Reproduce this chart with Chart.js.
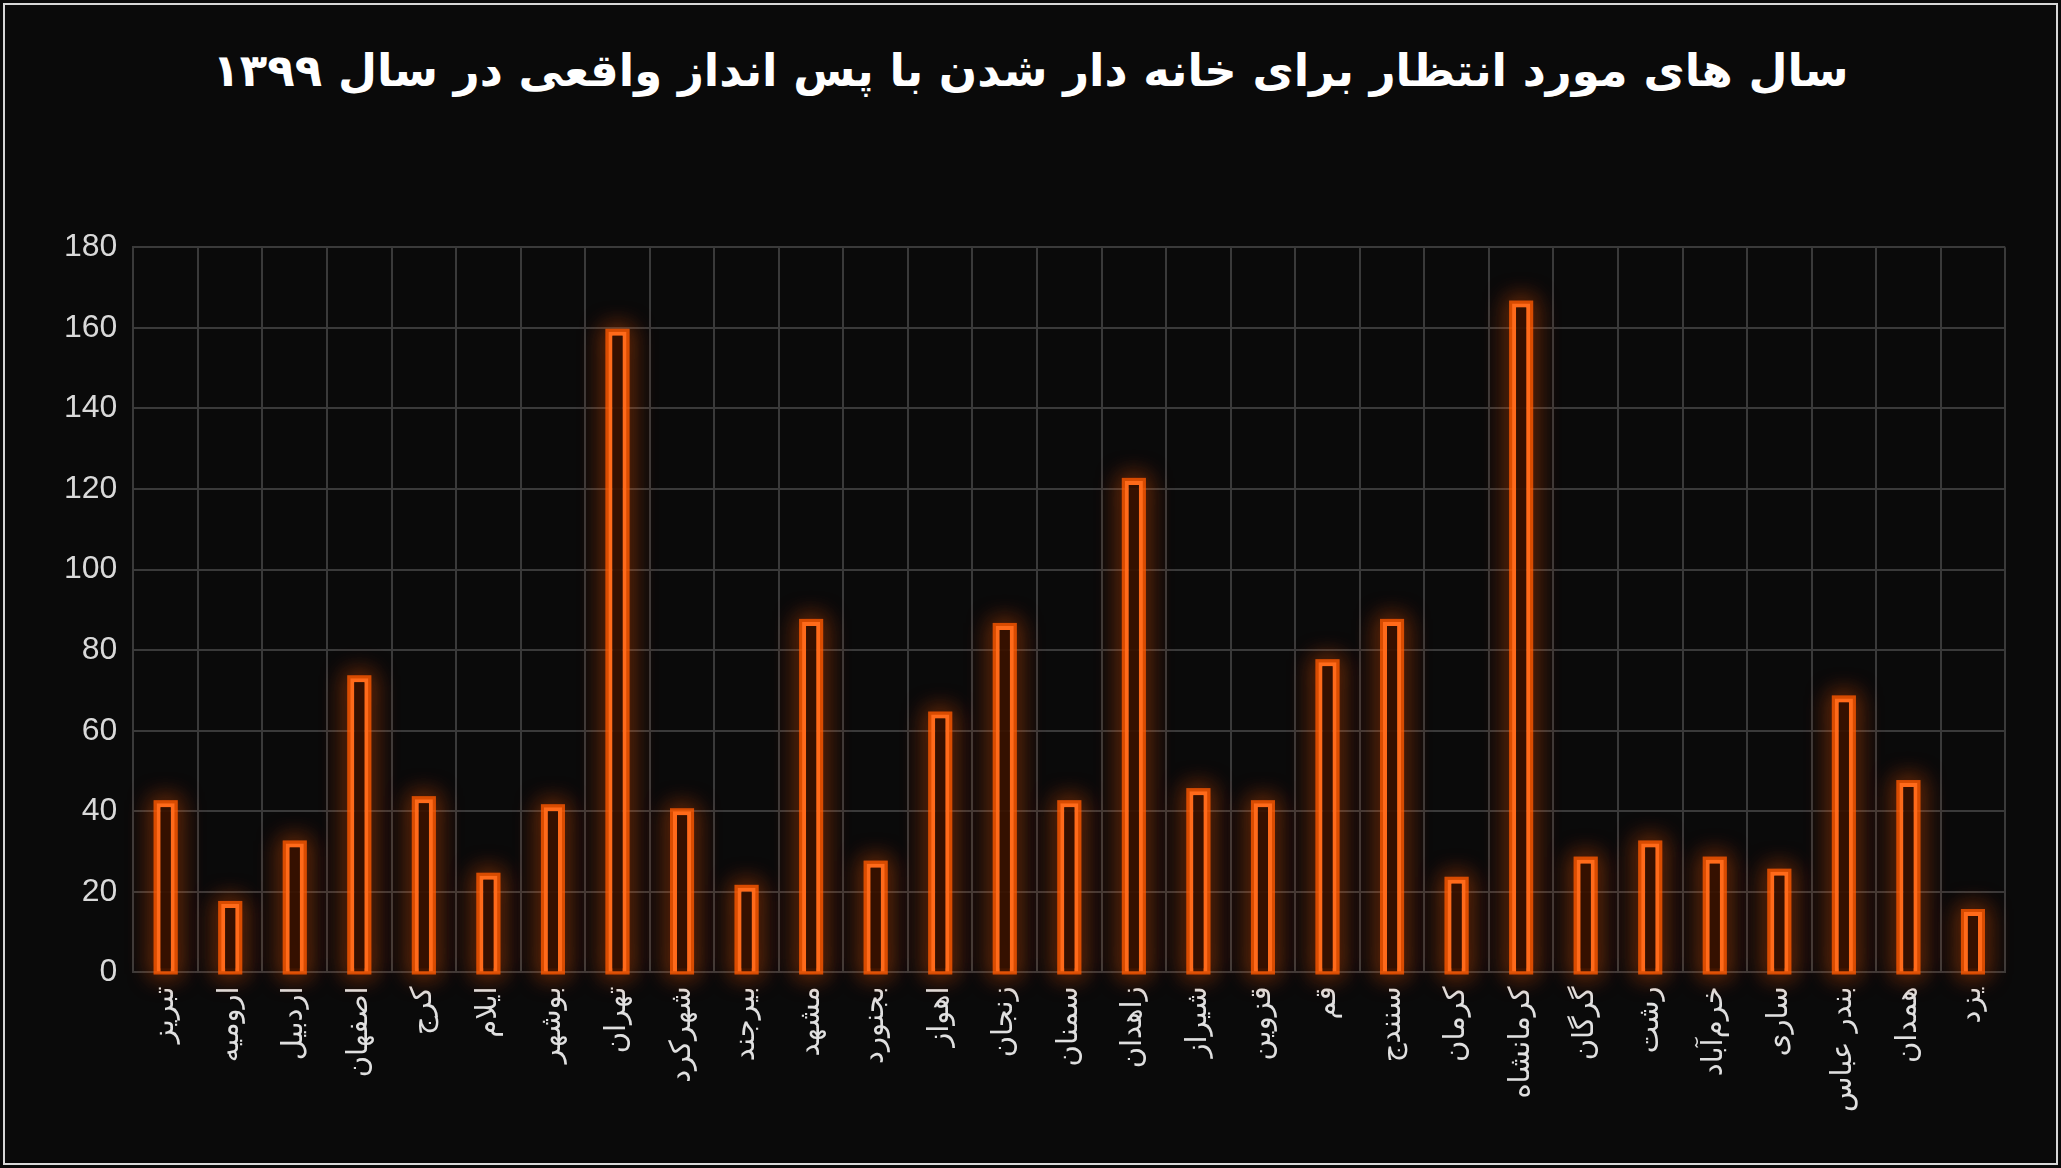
<!DOCTYPE html>
<html lang="fa">
<head>
    <meta charset="UTF-8">
    <title>Chart</title>
    <script src="https://cdn.jsdelivr.net/npm/chart.js@4.4.0/dist/chart.umd.min.js"></script>
    <style>
        * { margin: 0; padding: 0; box-sizing: border-box; }
        body { background: #0a0a0a; width: 2061px; height: 1168px; overflow: hidden; }
        .frame { position: absolute; left: 3px; top: 3px; right: 3px; bottom: 3px; border: 2px solid #d8d8d8; }
        h1 {
            position: absolute; left: 0; right: 0; top: 44px; text-align: center;
            color: #fff; font: bold 45px "DejaVu Sans", sans-serif; direction: rtl;
        }
        .chart-container { position: absolute; left: 48px; top: 212px; width: 1974px; height: 914px; }
    </style>
</head>
<body>
    <div class="frame"></div>
    <h1>سال های مورد انتظار برای خانه دار شدن با پس انداز واقعی در سال ۱۳۹۹</h1>
    <div class="chart-container"><canvas id="c"></canvas></div>
    <script>
        const cities = ['تبریز', 'ارومیه', 'اردبیل', 'اصفهان', 'کرج', 'ایلام', 'بوشهر', 'تهران', 'شهرکرد', 'بیرجند',
            'مشهد', 'بجنورد', 'اهواز', 'زنجان', 'سمنان', 'زاهدان', 'شیراز', 'قزوین', 'قم', 'سنندج',
            'کرمان', 'کرمانشاه', 'گرگان', 'رشت', 'خرم‌آباد', 'ساری', 'بندر عباس', 'همدان', 'یزد'];
        const years = [42, 17, 32, 73, 43, 24, 41, 159, 40, 21, 87, 27, 64, 86, 42, 122, 45, 42, 77, 87,
            23, 166, 28, 32, 28, 25, 68, 47, 15];

        // orange glow drawn around the bar elements the library laid out
        const glow = {
            id: 'glow',
            beforeDatasetsDraw(chart) {
                const ctx = chart.ctx;
                ctx.save();
                ctx.strokeStyle = 'rgba(255, 90, 0, 0.55)';
                ctx.lineWidth = 6;
                ctx.shadowColor = 'rgba(255, 90, 0, 1)';
                ctx.shadowBlur = 24;
                chart.getDatasetMeta(0).data.forEach(bar => {
                    const w = bar.width;
                    for (let i = 0; i < 2; i++) {
                        ctx.strokeRect(bar.x - w / 2, bar.y, w, bar.base - bar.y);
                    }
                });
                ctx.restore();
            }
        };

        new Chart(document.getElementById('c'), {
            type: 'bar',
            data: {
                labels: cities,
                datasets: [{
                    data: years,
                    backgroundColor: 'rgba(50, 15, 0, 0.9)',
                    borderColor: '#ff6a1a',
                    borderWidth: 4,
                    barPercentage: 0.28,
                    categoryPercentage: 1
                }]
            },
            options: {
                responsive: true,
                maintainAspectRatio: false,
                animation: false,
                layout: { padding: { right: 14 } },
                plugins: { legend: { display: false }, tooltip: { enabled: false } },
                scales: {
                    y: {
                        min: 0, max: 180,
                        ticks: { stepSize: 20, color: '#d9d9d9', font: { size: 32, family: 'Liberation Sans' }, padding: 16 },
                        grid: { color: '#3a3a3a', lineWidth: 2, drawTicks: false },
                        border: { color: '#3a3a3a', width: 2 }
                    },
                    x: {
                        ticks: { color: '#e0e0e0', font: { size: 29, family: 'DejaVu Sans' }, minRotation: 90, maxRotation: 90, padding: 14 },
                        grid: { color: '#3a3a3a', lineWidth: 2, drawTicks: false },
                        border: { color: '#3a3a3a', width: 2 }
                    }
                }
            },
            plugins: [glow]
        });
    </script>
</body>
</html>
